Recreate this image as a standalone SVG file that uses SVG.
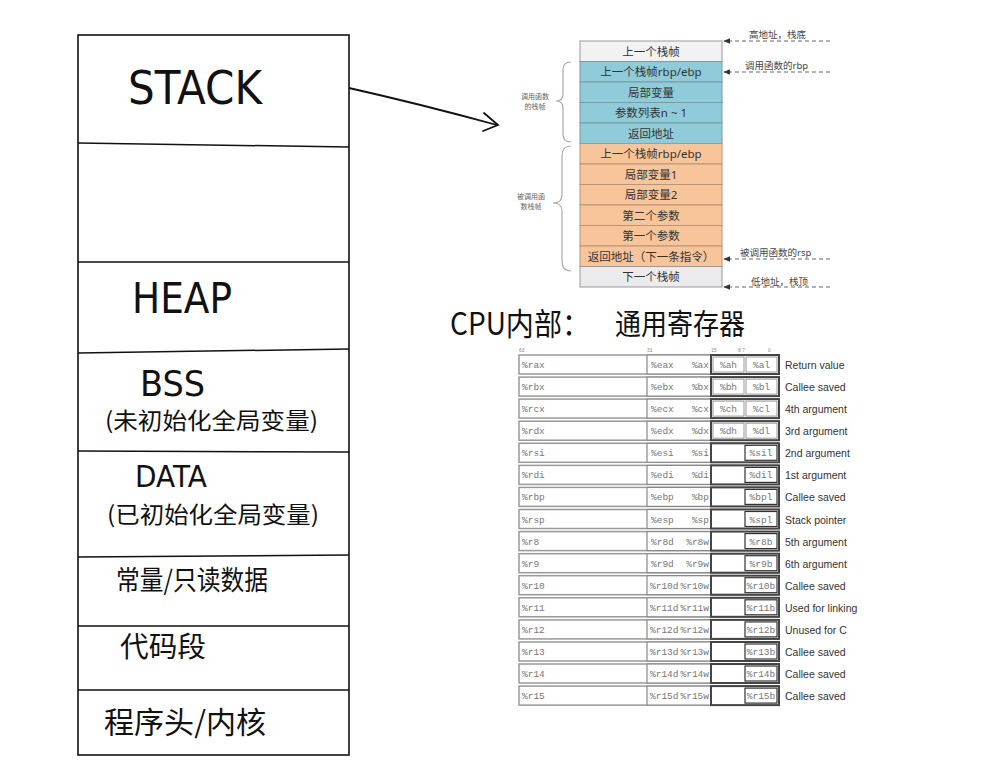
<svg xmlns="http://www.w3.org/2000/svg" width="997" height="766" viewBox="0 0 997 766">
<defs>
<style>
.hw{font-family:"DejaVu Sans","Noto Sans CJK SC",sans-serif;fill:#111}
.hc{font-family:"Noto Sans CJK SC","Noto Sans CJK JP",sans-serif;fill:#111}
.sf{font-family:"Noto Sans","Noto Sans CJK SC",sans-serif;font-size:11.5px;fill:#333;text-anchor:middle}
.an{font-family:"Noto Sans","Noto Sans CJK SC",sans-serif;font-size:9.5px;fill:#444}
.br{font-family:"Noto Sans CJK SC",sans-serif;font-size:7px;fill:#666;text-anchor:middle}
.mono{font-family:"Liberation Mono",monospace;font-size:9.5px;fill:#777}
.desc{font-family:"Liberation Sans",Arial,sans-serif;font-size:10.5px;fill:#333}
.tick{font-family:"Liberation Sans",sans-serif;font-size:5px;fill:#888}
.blue{fill:#90cbd9;stroke:#7a9aa4;stroke-width:1}
.orange{fill:#f8c49a;stroke:#b89478;stroke-width:1}
.lg{fill:#f2f2f2;stroke:#999;stroke-width:1}
.lg2{fill:#ebebee;stroke:#999;stroke-width:1}
.dash{stroke:#666;stroke-width:1;stroke-dasharray:4 3;fill:none}
.brace{stroke:#aaa;stroke-width:1.2;fill:none}
.ro{fill:#fff;stroke:#999;stroke-width:1.5}
.r32{fill:#fff;stroke:#888;stroke-width:1.2}
.r8{fill:#fff;stroke:#444;stroke-width:2}
.cell{fill:#fff;stroke:#999;stroke-width:1}
.cellk{fill:#fff;stroke:#333;stroke-width:1.2}
</style>
<marker id="ah" viewBox="0 0 10 10" refX="9" refY="5" markerWidth="7" markerHeight="7" orient="auto-start-reverse">
<path d="M0,1 L10,5 L0,9 z" fill="#333"/>
</marker>
</defs>
<rect width="997" height="766" fill="#fff"/>

<!-- Memory layout -->
<g id="memory">
<rect x="78" y="35" width="271" height="720" fill="none" stroke="#111" stroke-width="1.6"/>
<line x1="78" y1="143" x2="349" y2="147" stroke="#111" stroke-width="1.5"/>
<line x1="78" y1="262" x2="349" y2="262" stroke="#111" stroke-width="1.5"/>
<line x1="78" y1="353" x2="349" y2="349" stroke="#111" stroke-width="1.5"/>
<line x1="78" y1="451" x2="349" y2="452" stroke="#111" stroke-width="1.5"/>
<line x1="78" y1="557" x2="349" y2="555" stroke="#111" stroke-width="1.5"/>
<line x1="78" y1="626" x2="349" y2="626" stroke="#111" stroke-width="1.5"/>
<line x1="78" y1="690" x2="349" y2="690" stroke="#111" stroke-width="1.5"/>
</g>
<g id="seg-stack"><text class="hw" x="128" y="104" font-size="46" textLength="134" lengthAdjust="spacingAndGlyphs">STACK</text></g>
<g id="seg-heap"><text class="hw" x="132" y="313" font-size="42" textLength="100" lengthAdjust="spacingAndGlyphs">HEAP</text></g>
<g id="seg-bss">
<text class="hw" x="140" y="396" font-size="35" textLength="65" lengthAdjust="spacingAndGlyphs">BSS</text>
<text class="hc" x="105" y="429" font-size="23" textLength="213" lengthAdjust="spacingAndGlyphs">(未初始化全局变量)</text>
</g>
<g id="seg-data">
<text class="hw" x="135" y="487" font-size="31" textLength="72" lengthAdjust="spacingAndGlyphs">DATA</text>
<text class="hc" x="107" y="523" font-size="23" textLength="212" lengthAdjust="spacingAndGlyphs">(已初始化全局变量)</text>
</g>
<g id="seg-rodata"><text class="hc" x="116" y="590" font-size="27" textLength="152" lengthAdjust="spacingAndGlyphs">常量/只读数据</text></g>
<g id="seg-text"><text class="hc" x="120" y="657" font-size="28" textLength="86" lengthAdjust="spacingAndGlyphs">代码段</text></g>
<g id="seg-header"><text class="hc" x="104" y="733" font-size="30" textLength="162" lengthAdjust="spacingAndGlyphs">程序头/内核</text></g>

<!-- Connectors -->
<g id="connectors">
<path d="M349,88 Q420,104 497,125" fill="none" stroke="#111" stroke-width="1.8"/>
<path d="M484,113 L498,125 L483,131" fill="none" stroke="#111" stroke-width="1.8" stroke-linecap="round"/>
<line class="dash" x1="830" y1="41" x2="724" y2="41" marker-end="url(#ah)"/>
<line class="dash" x1="830" y1="72" x2="724" y2="72" marker-end="url(#ah)"/>
<line class="dash" x1="830" y1="259" x2="724" y2="259" marker-end="url(#ah)"/>
<line class="dash" x1="830" y1="287" x2="724" y2="287" marker-end="url(#ah)"/>
</g>

<!-- Stack frame -->
<g id="stackframe">
<rect class="lg" x="580" y="41" width="142" height="20.5"/><text class="sf" x="651" y="55.5">上一个栈帧</text>
<rect class="blue" x="580" y="61.5" width="142" height="20.5"/><text class="sf" x="651" y="76">上一个栈帧rbp/ebp</text>
<rect class="blue" x="580" y="82" width="142" height="20.5"/><text class="sf" x="651" y="96.5">局部变量</text>
<rect class="blue" x="580" y="102.5" width="142" height="20.5"/><text class="sf" x="651" y="117">参数列表n ~ 1</text>
<rect class="blue" x="580" y="123" width="142" height="20.5"/><text class="sf" x="651" y="137.5">返回地址</text>
<rect class="orange" x="580" y="143.5" width="142" height="20.5"/><text class="sf" x="651" y="158">上一个栈帧rbp/ebp</text>
<rect class="orange" x="580" y="164" width="142" height="20.5"/><text class="sf" x="651" y="178.5">局部变量1</text>
<rect class="orange" x="580" y="184.5" width="142" height="20.5"/><text class="sf" x="651" y="199">局部变量2</text>
<rect class="orange" x="580" y="205" width="142" height="20.5"/><text class="sf" x="651" y="219.5">第二个参数</text>
<rect class="orange" x="580" y="225.5" width="142" height="20.5"/><text class="sf" x="651" y="240">第一个参数</text>
<rect class="orange" x="580" y="246" width="142" height="20.5"/><text class="sf" x="651" y="260.5">返回地址（下一条指令）</text>
<rect class="lg2" x="580" y="266.5" width="142" height="20.5"/><text class="sf" x="651" y="281">下一个栈帧</text>
</g>
<g id="annotations">
<text class="an" x="749" y="38">高地址，栈底</text>
<text class="an" x="745" y="69">调用函数的rbp</text>
<text class="an" x="740" y="256">被调用函数的rsp</text>
<text class="an" x="751" y="285">低地址，栈顶</text>
</g>
<g id="brace-caller">
<path class="brace" d="M571,62 Q563,62 563,70 L563,94 Q563,101 556,101 Q563,101 563,108 L563,134 Q563,142 571,142"/>
<text class="br" x="535" y="99">调用函数</text>
<text class="br" x="535" y="109">的栈帧</text>
</g>
<g id="brace-callee">
<path class="brace" d="M571,146 Q562,146 562,156 L562,195 Q562,203 553,203 Q562,203 562,211 L562,261 Q562,271 571,271"/>
<text class="br" x="531" y="199">被调用函</text>
<text class="br" x="531" y="209">数栈帧</text>
</g>

<!-- CPU title -->
<g id="cpu-title">
<text class="hc" x="450" y="335" font-size="31" textLength="140" lengthAdjust="spacingAndGlyphs">CPU内部：</text>
<text class="hc" x="615" y="335" font-size="29" textLength="130" lengthAdjust="spacingAndGlyphs">通用寄存器</text>
</g>

<!-- Register table -->
<g id="reg-header">
<text class="tick" x="519" y="352">63</text>
<text class="tick" x="647" y="352">31</text>
<text class="tick" x="711" y="352">15</text>
<text class="tick" x="738" y="352">8 7</text>
<text class="tick" x="768" y="352">0</text>
</g>
<g id="reg-rax" transform="translate(0,355)">
<rect class="ro" x="519" y="0" width="260" height="19"/><rect class="r32" x="647" y="0" width="132" height="19"/><rect class="r8" x="711" y="0" width="68" height="19"/>
<rect class="cell" x="713" y="2" width="31" height="15"/><rect class="cell" x="746" y="2" width="31" height="15"/>
<text class="mono" x="522" y="13">%rax</text><text class="mono" x="651" y="13">%eax</text><text class="mono" x="709" y="13" text-anchor="end">%ax</text>
<text class="mono" x="728.5" y="13" text-anchor="middle">%ah</text><text class="mono" x="761.5" y="13" text-anchor="middle">%al</text>
<text class="desc" x="785" y="14">Return value</text>
</g>
<g id="reg-rbx" transform="translate(0,377.1)">
<rect class="ro" x="519" y="0" width="260" height="19"/><rect class="r32" x="647" y="0" width="132" height="19"/><rect class="r8" x="711" y="0" width="68" height="19"/>
<rect class="cell" x="713" y="2" width="31" height="15"/><rect class="cell" x="746" y="2" width="31" height="15"/>
<text class="mono" x="522" y="13">%rbx</text><text class="mono" x="651" y="13">%ebx</text><text class="mono" x="709" y="13" text-anchor="end">%bx</text>
<text class="mono" x="728.5" y="13" text-anchor="middle">%bh</text><text class="mono" x="761.5" y="13" text-anchor="middle">%bl</text>
<text class="desc" x="785" y="14">Callee saved</text>
</g>
<g id="reg-rcx" transform="translate(0,399.1)">
<rect class="ro" x="519" y="0" width="260" height="19"/><rect class="r32" x="647" y="0" width="132" height="19"/><rect class="r8" x="711" y="0" width="68" height="19"/>
<rect class="cell" x="713" y="2" width="31" height="15"/><rect class="cell" x="746" y="2" width="31" height="15"/>
<text class="mono" x="522" y="13">%rcx</text><text class="mono" x="651" y="13">%ecx</text><text class="mono" x="709" y="13" text-anchor="end">%cx</text>
<text class="mono" x="728.5" y="13" text-anchor="middle">%ch</text><text class="mono" x="761.5" y="13" text-anchor="middle">%cl</text>
<text class="desc" x="785" y="14">4th argument</text>
</g>
<g id="reg-rdx" transform="translate(0,421.2)">
<rect class="ro" x="519" y="0" width="260" height="19"/><rect class="r32" x="647" y="0" width="132" height="19"/><rect class="r8" x="711" y="0" width="68" height="19"/>
<rect class="cell" x="713" y="2" width="31" height="15"/><rect class="cell" x="746" y="2" width="31" height="15"/>
<text class="mono" x="522" y="13">%rdx</text><text class="mono" x="651" y="13">%edx</text><text class="mono" x="709" y="13" text-anchor="end">%dx</text>
<text class="mono" x="728.5" y="13" text-anchor="middle">%dh</text><text class="mono" x="761.5" y="13" text-anchor="middle">%dl</text>
<text class="desc" x="785" y="14">3rd argument</text>
</g>
<g id="reg-rsi" transform="translate(0,443.3)">
<rect class="ro" x="519" y="0" width="260" height="19"/><rect class="r32" x="647" y="0" width="132" height="19"/><rect class="r8" x="711" y="0" width="68" height="19"/>
<rect class="cellk" x="745" y="2" width="32" height="15"/>
<text class="mono" x="522" y="13">%rsi</text><text class="mono" x="651" y="13">%esi</text><text class="mono" x="709" y="13" text-anchor="end">%si</text>
<text class="mono" x="761" y="13" text-anchor="middle">%sil</text>
<text class="desc" x="785" y="14">2nd argument</text>
</g>
<g id="reg-rdi" transform="translate(0,465.4)">
<rect class="ro" x="519" y="0" width="260" height="19"/><rect class="r32" x="647" y="0" width="132" height="19"/><rect class="r8" x="711" y="0" width="68" height="19"/>
<rect class="cellk" x="745" y="2" width="32" height="15"/>
<text class="mono" x="522" y="13">%rdi</text><text class="mono" x="651" y="13">%edi</text><text class="mono" x="709" y="13" text-anchor="end">%di</text>
<text class="mono" x="761" y="13" text-anchor="middle">%dil</text>
<text class="desc" x="785" y="14">1st argument</text>
</g>
<g id="reg-rbp" transform="translate(0,487.4)">
<rect class="ro" x="519" y="0" width="260" height="19"/><rect class="r32" x="647" y="0" width="132" height="19"/><rect class="r8" x="711" y="0" width="68" height="19"/>
<rect class="cellk" x="745" y="2" width="32" height="15"/>
<text class="mono" x="522" y="13">%rbp</text><text class="mono" x="651" y="13">%ebp</text><text class="mono" x="709" y="13" text-anchor="end">%bp</text>
<text class="mono" x="761" y="13" text-anchor="middle">%bpl</text>
<text class="desc" x="785" y="14">Callee saved</text>
</g>
<g id="reg-rsp" transform="translate(0,509.5)">
<rect class="ro" x="519" y="0" width="260" height="19"/><rect class="r32" x="647" y="0" width="132" height="19"/><rect class="r8" x="711" y="0" width="68" height="19"/>
<rect class="cellk" x="745" y="2" width="32" height="15"/>
<text class="mono" x="522" y="13">%rsp</text><text class="mono" x="651" y="13">%esp</text><text class="mono" x="709" y="13" text-anchor="end">%sp</text>
<text class="mono" x="761" y="13" text-anchor="middle">%spl</text>
<text class="desc" x="785" y="14">Stack pointer</text>
</g>
<g id="reg-r8" transform="translate(0,531.6)">
<rect class="ro" x="519" y="0" width="260" height="19"/><rect class="r32" x="647" y="0" width="132" height="19"/><rect class="r8" x="711" y="0" width="68" height="19"/>
<rect class="cellk" x="745" y="2" width="32" height="15"/>
<text class="mono" x="522" y="13">%r8</text><text class="mono" x="651" y="13">%r8d</text><text class="mono" x="709" y="13" text-anchor="end">%r8w</text>
<text class="mono" x="761" y="13" text-anchor="middle">%r8b</text>
<text class="desc" x="785" y="14">5th argument</text>
</g>
<g id="reg-r9" transform="translate(0,553.7)">
<rect class="ro" x="519" y="0" width="260" height="19"/><rect class="r32" x="647" y="0" width="132" height="19"/><rect class="r8" x="711" y="0" width="68" height="19"/>
<rect class="cellk" x="745" y="2" width="32" height="15"/>
<text class="mono" x="522" y="13">%r9</text><text class="mono" x="651" y="13">%r9d</text><text class="mono" x="709" y="13" text-anchor="end">%r9w</text>
<text class="mono" x="761" y="13" text-anchor="middle">%r9b</text>
<text class="desc" x="785" y="14">6th argument</text>
</g>
<g id="reg-r10" transform="translate(0,575.7)">
<rect class="ro" x="519" y="0" width="260" height="19"/><rect class="r32" x="647" y="0" width="132" height="19"/><rect class="r8" x="711" y="0" width="68" height="19"/>
<rect class="cellk" x="745" y="2" width="32" height="15"/>
<text class="mono" x="522" y="13">%r10</text><text class="mono" x="650" y="13">%r10d</text><text class="mono" x="709" y="13" text-anchor="end">%r10w</text>
<text class="mono" x="761" y="13" text-anchor="middle">%r10b</text>
<text class="desc" x="785" y="14">Callee saved</text>
</g>
<g id="reg-r11" transform="translate(0,597.8)">
<rect class="ro" x="519" y="0" width="260" height="19"/><rect class="r32" x="647" y="0" width="132" height="19"/><rect class="r8" x="711" y="0" width="68" height="19"/>
<rect class="cellk" x="745" y="2" width="32" height="15"/>
<text class="mono" x="522" y="13">%r11</text><text class="mono" x="650" y="13">%r11d</text><text class="mono" x="709" y="13" text-anchor="end">%r11w</text>
<text class="mono" x="761" y="13" text-anchor="middle">%r11b</text>
<text class="desc" x="785" y="14">Used for linking</text>
</g>
<g id="reg-r12" transform="translate(0,619.9)">
<rect class="ro" x="519" y="0" width="260" height="19"/><rect class="r32" x="647" y="0" width="132" height="19"/><rect class="r8" x="711" y="0" width="68" height="19"/>
<rect class="cellk" x="745" y="2" width="32" height="15"/>
<text class="mono" x="522" y="13">%r12</text><text class="mono" x="650" y="13">%r12d</text><text class="mono" x="709" y="13" text-anchor="end">%r12w</text>
<text class="mono" x="761" y="13" text-anchor="middle">%r12b</text>
<text class="desc" x="785" y="14">Unused for C</text>
</g>
<g id="reg-r13" transform="translate(0,642)">
<rect class="ro" x="519" y="0" width="260" height="19"/><rect class="r32" x="647" y="0" width="132" height="19"/><rect class="r8" x="711" y="0" width="68" height="19"/>
<rect class="cellk" x="745" y="2" width="32" height="15"/>
<text class="mono" x="522" y="13">%r13</text><text class="mono" x="650" y="13">%r13d</text><text class="mono" x="709" y="13" text-anchor="end">%r13w</text>
<text class="mono" x="761" y="13" text-anchor="middle">%r13b</text>
<text class="desc" x="785" y="14">Callee saved</text>
</g>
<g id="reg-r14" transform="translate(0,664)">
<rect class="ro" x="519" y="0" width="260" height="19"/><rect class="r32" x="647" y="0" width="132" height="19"/><rect class="r8" x="711" y="0" width="68" height="19"/>
<rect class="cellk" x="745" y="2" width="32" height="15"/>
<text class="mono" x="522" y="13">%r14</text><text class="mono" x="650" y="13">%r14d</text><text class="mono" x="709" y="13" text-anchor="end">%r14w</text>
<text class="mono" x="761" y="13" text-anchor="middle">%r14b</text>
<text class="desc" x="785" y="14">Callee saved</text>
</g>
<g id="reg-r15" transform="translate(0,686.1)">
<rect class="ro" x="519" y="0" width="260" height="19"/><rect class="r32" x="647" y="0" width="132" height="19"/><rect class="r8" x="711" y="0" width="68" height="19"/>
<rect class="cellk" x="745" y="2" width="32" height="15"/>
<text class="mono" x="522" y="13">%r15</text><text class="mono" x="650" y="13">%r15d</text><text class="mono" x="709" y="13" text-anchor="end">%r15w</text>
<text class="mono" x="761" y="13" text-anchor="middle">%r15b</text>
<text class="desc" x="785" y="14">Callee saved</text>
</g>
</svg>
